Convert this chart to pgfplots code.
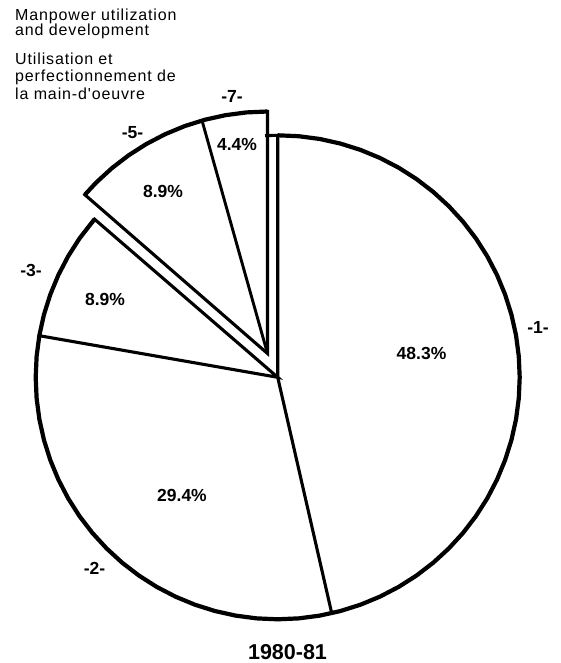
\documentclass[border=0pt]{standalone}
\usepackage{pgfplots}
\pgfplotsset{compat=1.18}
\usepgfplotslibrary{polar}
\usepackage{fontspec}
\setmainfont{Liberation Sans}
\newfontfamily\wide[LetterSpace=5.4]{Liberation Sans}
\begin{document}
\begin{tikzpicture}
\path[use as bounding box] (0,0) rectangle (561pt,663pt);
\begin{polaraxis}[
  hide axis, scale only axis, clip=false,
  width=484pt, height=484pt,
  xmin=0, xmax=360, ymin=0, ymax=242,
  at={(277.7pt,285.7pt)}, anchor=origin,
]
% main pie (slices 1, 2, 3): outer arc
\addplot[black, line width=4.2pt, line cap=butt, no markers] coordinates {
(139.2,242) (145,242) (150,242) (155,242) (160,242) (165,242) (170,242) (175,242)
(180,242) (185,242) (190,242) (195,242) (200,242) (205,242) (210,242) (215,242)
(220,242) (225,242) (230,242) (235,242) (240,242) (245,242) (250,242) (255,242)
(260,242) (265,242) (270,242) (275,242) (280,242) (285,242) (290,242) (295,242)
(300,242) (305,242) (310,242) (315,242) (320,242) (325,242) (330,242) (335,242)
(340,242) (345,242) (350,242) (355,242) (360,242) (365,242) (370,242) (375,242)
(380,242) (385,242) (390,242) (395,242) (400,242) (405,242) (410,242) (415,242)
(420,242) (425,242) (430,242) (435,242) (440,242) (445,242) (450,242)};
% slice boundaries
\addplot[black, line width=3.1pt, line join=miter, no markers] coordinates {
(93,242) (90,242) (0,0) (282.9,242)};
\addplot[black, line width=3.1pt, line join=miter, no markers] coordinates {
(170.1,242) (0,0) (139.2,242) (142.2,242)};
% exploded slices 5 and 7
\addplot[black, line width=4.2pt, line cap=butt, no markers, xshift=-10.2pt, yshift=23.8pt] coordinates {
(90,242) (95,242) (100,242) (105,242) (110,242) (115,242) (120,242) (125,242)
(130,242) (135,242) (139,242)};
\addplot[black, line width=3.1pt, line join=miter, no markers, xshift=-10.2pt, yshift=23.8pt] coordinates {
(93,242) (90,242) (0,0) (139,242) (136,242)};
\addplot[black, line width=2.9pt, no markers, xshift=-10.2pt, yshift=23.8pt] coordinates {
(105.7,242) (0,0)};
\end{polaraxis}
% title text
\tikzset{ttl/.style={anchor=base west, font=\wide\fontsize{16}{19}\selectfont, inner sep=0pt}}
\node[ttl] at (15pt,642.3pt) {Manpower utilization};
\node[ttl] at (15pt,627pt) {and development};
\node[ttl] at (15pt,598pt) {Utilisation et};
\node[ttl] at (15pt,581.3pt) {perfectionnement de};
\node[ttl] at (15pt,563.7pt) {la main-d'oeuvre};
% slice labels
\tikzset{lab/.style={font=\bfseries\fontsize{17.5}{20}\selectfont, inner sep=0pt}}
\node[lab] at (232pt,567pt) {-7-};
\node[lab] at (132.5pt,530.5pt) {-5-};
\node[lab] at (237pt,519pt) {4.4\%};
\node[lab] at (163pt,472pt) {8.9\%};
\node[lab] at (105pt,364pt) {8.9\%};
\node[lab] at (31pt,393pt) {-3-};
\node[lab] at (421.5pt,310pt) {48.3\%};
\node[lab] at (538pt,336pt) {-1-};
\node[lab] at (182pt,168pt) {29.4\%};
\node[lab] at (94.5pt,95pt) {-2-};
\node[font=\bfseries\fontsize{21.5}{24}\selectfont, inner sep=0pt] at (287.5pt,11pt) {1980-81};
\end{tikzpicture}
\end{document}
